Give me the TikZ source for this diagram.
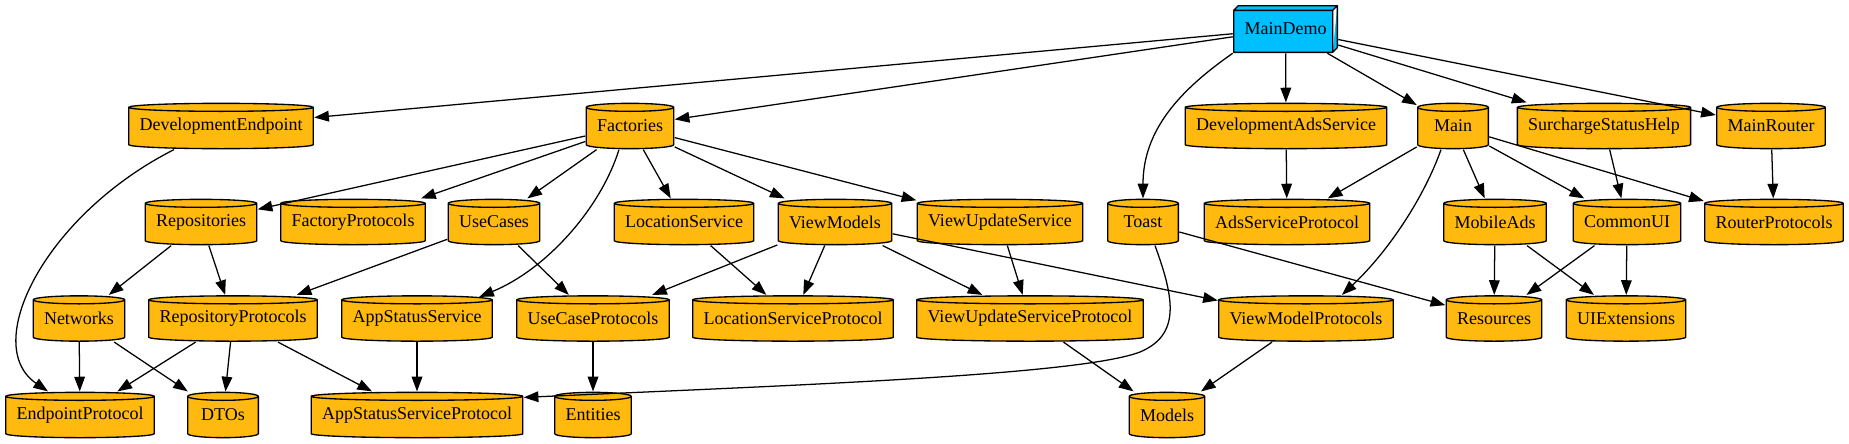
\documentclass[tikz,border=0pt]{standalone}
\usepackage{fontspec}
\setmainfont{Liberation Serif}
\usepackage{tikz}
\usetikzlibrary{arrows.meta,calc}
\definecolor{dgold}{HTML}{FFB90F}
\definecolor{dsky}{HTML}{00BFFF}
\tikzset{
  cyl/.style={rectangle,inner xsep=8.6pt,inner ysep=2pt,minimum width=54pt,
              minimum height=35pt,font=\fontsize{13.5}{16}\selectfont,
              path picture={
                \draw[line width=1pt,fill=dgold]
                  let \p1=(path picture bounding box.south west),
                      \p2=(path picture bounding box.north east) in
                  (\x1+0.5pt,\y2-3.5pt) -- (\x1+0.5pt,\y1+3.5pt)
                  arc[start angle=180,end angle=360,
                      x radius={(\x2-\x1)/2-0.5pt},y radius=3pt]
                  -- (\x2-0.5pt,\y2-3.5pt)
                  arc[start angle=0,end angle=180,
                      x radius={(\x2-\x1)/2-0.5pt},y radius=3pt]
                  -- cycle
                  (\x1+0.5pt,\y2-3.5pt)
                  arc[start angle=180,end angle=360,
                      x radius={(\x2-\x1)/2-0.5pt},y radius=3pt];
              }},
  cube/.style={rectangle,minimum width=78.75pt,minimum height=36pt,
               font=\fontsize{13.5}{16}\selectfont,
               path picture={
                 \draw[line width=1pt,fill=dsky,line join=round]
                   let \p1=(path picture bounding box.south west),
                       \p2=(path picture bounding box.north east) in
                   (\x1+0.5pt,\y1+0.5pt) rectangle (\x2-4pt,\y2-4pt)
                   (\x1+0.5pt,\y2-4pt) -- (\x1+4pt,\y2-0.5pt)
                   -- (\x2-0.5pt,\y2-0.5pt) -- (\x2-4pt,\y2-4pt)
                   (\x2-0.5pt,\y2-0.5pt) -- (\x2-0.5pt,\y1+4pt)
                   -- (\x2-4pt,\y1+0.5pt);
               }},
  arr/.style={-{Triangle[length=11pt,width=8pt]},line width=0.95pt},
}
\begin{document}
\begin{tikzpicture}[x=0.75pt,y=-0.75pt]
\useasboundingbox (0,0) rectangle (1849,443);
% top
\node[cube] (MainDemo) at (1285.5,29) {MainDemo};
% rank 1
\node[cyl] (DevelopmentEndpoint) at (221,126) {DevelopmentEndpoint};
\node[cyl] (Factories) at (630,126) {Factories};
\node[cyl] (DevelopmentAdsService) at (1286,126) {DevelopmentAdsService};
\node[cyl] (Main) at (1453,126) {Main};
\node[cyl] (SurchargeStatusHelp) at (1604,126) {SurchargeStatusHelp};
\node[cyl] (MainRouter) at (1771,126) {MainRouter};
% rank 2
\node[cyl] (Repositories) at (201,222) {Repositories};
\node[cyl] (FactoryProtocols) at (353,222) {FactoryProtocols};
\node[cyl] (UseCases) at (494,222) {UseCases};
\node[cyl] (LocationService) at (684,222) {LocationService};
\node[cyl] (ViewModels) at (835,222) {ViewModels};
\node[cyl] (ViewUpdateService) at (1000,222) {ViewUpdateService};
\node[cyl] (Toast) at (1143,222) {Toast};
\node[cyl] (AdsServiceProtocol) at (1287,222) {AdsServiceProtocol};
\node[cyl] (MobileAds) at (1495,222) {MobileAds};
\node[cyl] (CommonUI) at (1627,222) {CommonUI};
\node[cyl] (RouterProtocols) at (1774,222) {RouterProtocols};
% rank 3
\node[cyl] (Networks) at (79,318.5) {Networks};
\node[cyl] (RepositoryProtocols) at (233,318.5) {RepositoryProtocols};
\node[cyl] (AppStatusService) at (417,318.5) {AppStatusService};
\node[cyl] (UseCaseProtocols) at (593,318.5) {UseCaseProtocols};
\node[cyl] (LocationServiceProtocol) at (793,318.5) {LocationServiceProtocol};
\node[cyl] (ViewUpdateServiceProtocol) at (1030,318.5) {ViewUpdateServiceProtocol};
\node[cyl] (ViewModelProtocols) at (1306,318.5) {ViewModelProtocols};
\node[cyl] (Resources) at (1494,318.5) {Resources};
\node[cyl] (UIExtensions) at (1626,318.5) {UIExtensions};
% rank 4
\node[cyl] (EndpointProtocol) at (80,415) {EndpointProtocol};
\node[cyl] (DTOs) at (223,415) {DTOs};
\node[cyl] (AppStatusServiceProtocol) at (417,415) {AppStatusServiceProtocol};
\node[cyl] (Entities) at (593,415) {Entities};
\node[cyl] (Models) at (1167,415) {Models};
% straight dependencies
\foreach \a/\b in {MainDemo/DevelopmentEndpoint, MainDemo/Factories,
    MainDemo/DevelopmentAdsService, MainDemo/Main, MainDemo/SurchargeStatusHelp,
    MainDemo/MainRouter, Factories/Repositories, Factories/FactoryProtocols,
    Factories/UseCases, Factories/LocationService, Factories/ViewModels,
    Factories/ViewUpdateService, DevelopmentAdsService/AdsServiceProtocol,
    Main/AdsServiceProtocol, Main/MobileAds, Main/CommonUI, Main/RouterProtocols,
    SurchargeStatusHelp/CommonUI, MainRouter/RouterProtocols,
    Repositories/Networks, Repositories/RepositoryProtocols,
    UseCases/RepositoryProtocols, UseCases/UseCaseProtocols,
    LocationService/LocationServiceProtocol, ViewModels/UseCaseProtocols,
    ViewModels/LocationServiceProtocol, ViewModels/ViewUpdateServiceProtocol,
    ViewModels/ViewModelProtocols, ViewUpdateService/ViewUpdateServiceProtocol,
    Toast/Resources, MobileAds/Resources, MobileAds/UIExtensions,
    CommonUI/Resources, CommonUI/UIExtensions, Networks/EndpointProtocol,
    Networks/DTOs, RepositoryProtocols/EndpointProtocol, RepositoryProtocols/DTOs,
    RepositoryProtocols/AppStatusServiceProtocol,
    AppStatusService/AppStatusServiceProtocol, UseCaseProtocols/Entities,
    ViewUpdateServiceProtocol/Models, ViewModelProtocols/Models}{
  \draw[arr] (\a) -- (\b);
}
% curved ones
\draw[arr] (MainDemo.south west) .. controls (1180,90) and (1143,130) .. (Toast.north);
\draw[arr] ($(DevelopmentEndpoint.south)+(-47,0)$) .. controls (45,215) and (-20,345)
  .. ($(EndpointProtocol.north)+(-32,0)$);
\draw[arr] ($(Factories.south)+(-11,0)$) .. controls (600,210) and (545,270)
  .. ($(AppStatusService.north east)+(-14,2)$);
\draw[arr] ($(Main.south)+(-12,0)$) .. controls (1425,195) and (1390,250)
  .. ($(ViewModelProtocols.north)+(36,0)$);
\draw[arr] ($(Toast.south)+(12,0)$) .. controls (1175,300) and (1180,335) .. (1140,352)
  .. controls (1080,375) and (800,385) .. ($(AppStatusServiceProtocol.north east)+(0,6)$);
\end{tikzpicture}
\end{document}
